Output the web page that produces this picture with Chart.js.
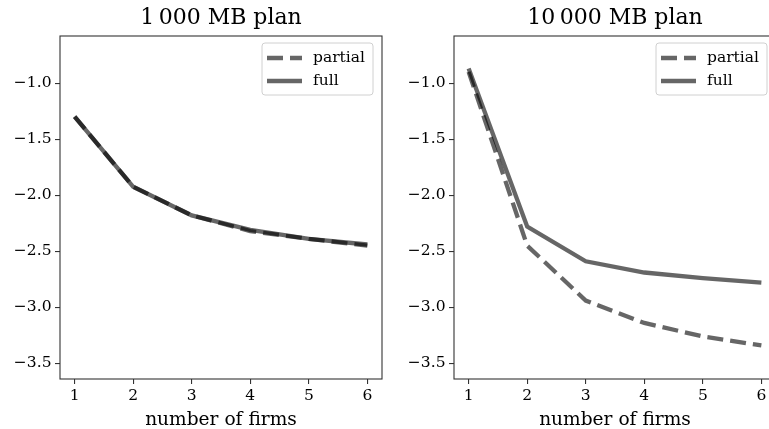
<!DOCTYPE html>
<html>
<head>
<meta charset="utf-8">
<script src="https://cdn.jsdelivr.net/npm/chart.js@4.4.1/dist/chart.umd.min.js"></script>
<style>
  html, body { margin: 0; padding: 0; background: #fff; overflow: hidden; width: 769px; height: 429px; }
  .panel { position: absolute; top: 0; height: 429px; }
  #p1 { left: 0; width: 390px; }
  #p2 { left: 390px; width: 400px; }
</style>
</head>
<body>
<div class="panel" id="p1"><canvas id="c1" width="390" height="429"></canvas></div>
<div class="panel" id="p2"><canvas id="c2" width="400" height="429"></canvas></div>
<script>
const firms = [1, 2, 3, 4, 5, 6];
const yTicks = [-3.5, -3.0, -2.5, -2.0, -1.5, -1.0];
const seriesNames = ['partial', 'full'];
const titles = ['1\u2009000 MB plan', '10\u2009000 MB plan'];

const plan1000Partial  = [-1.30, -1.925, -2.18, -2.32, -2.39, -2.45];
const plan1000Full     = [-1.30, -1.925, -2.18, -2.31, -2.39, -2.44];
const plan10000Partial = [-0.90, -2.45, -2.94, -3.14, -3.26, -3.34];
const plan10000Full    = [-0.87, -2.28, -2.59, -2.69, -2.74, -2.78];

// ───────────────────────────────────────────────────────────────────────────

const SERIF = "'DejaVu Serif', serif";
const LINE = 'rgba(0,0,0,0.6)';
const SPINE = '#333';

const framePlugin = {
  id: 'frame',
  afterDatasetsDraw(chart) {
    const { ctx, chartArea: a } = chart;
    ctx.save();
    ctx.strokeStyle = SPINE;
    ctx.lineWidth = 1.1;
    ctx.strokeRect(a.left, a.top, a.right - a.left, a.bottom - a.top);

    // legend box in the upper right corner
    const w = 111, h = 52;
    const x = a.right - 9 - w, y = a.top + 7;
    ctx.beginPath();
    ctx.roundRect(x, y, w, h, 3);
    ctx.fillStyle = 'rgba(255,255,255,0.8)';
    ctx.fill();
    ctx.strokeStyle = '#d0d0d0';
    ctx.lineWidth = 1;
    ctx.stroke();

    chart.data.datasets.forEach((ds, i) => {
      const ly = y + 15 + i * 23;
      ctx.beginPath();
      ctx.setLineDash(ds.borderDash || []);
      ctx.lineCap = 'butt';
      ctx.strokeStyle = ds.borderColor;
      ctx.lineWidth = ds.borderWidth;
      ctx.moveTo(x + 5, ly);
      ctx.lineTo(x + 40, ly);
      ctx.stroke();
      ctx.setLineDash([]);
      ctx.fillStyle = '#000';
      ctx.font = `15.5px ${SERIF}`;
      ctx.textBaseline = 'middle';
      ctx.fillText(ds.label, x + 51, ly);
    });
    ctx.restore();
  }
};

function fmt(v) {
  return (v < 0 ? '\u2212' : '') + Math.abs(v).toFixed(1);
}

function makeChart(id, title, partial, full, yWidth, padRight) {
  const tickFont = { family: SERIF, size: 15.5 };
  return new Chart(document.getElementById(id), {
    type: 'line',
    data: {
      datasets: [
        {
          label: seriesNames[0],
          data: firms.map((x, i) => ({ x, y: partial[i] })),
          borderColor: LINE,
          borderWidth: 4.3,
          borderDash: [16, 7],
          pointRadius: 0,
          tension: 0,
        },
        {
          label: seriesNames[1],
          data: firms.map((x, i) => ({ x, y: full[i] })),
          borderColor: LINE,
          borderWidth: 4.3,
          pointRadius: 0,
          tension: 0,
        }
      ]
    },
    options: {
      responsive: false,
      animation: false,
      events: [],
      layout: { padding: { left: 0, right: padRight, top: 0, bottom: 0 } },
      plugins: {
        legend: { display: false },
        tooltip: { enabled: false },
        title: {
          display: true,
          fullSize: false,
          text: title,
          color: '#000',
          font: { family: SERIF, size: 22, weight: 'normal', lineHeight: 1.2 },
          padding: { top: 5.5, bottom: 4.1 },
        },
      },
      scales: {
        x: {
          type: 'linear',
          min: 0.75,
          max: 6.25,
          afterBuildTicks: s => { s.ticks = firms.map(v => ({ value: v })); },
          afterFit: s => { s.height = 50; },
          ticks: { color: '#000', font: tickFont, autoSkip: false, maxRotation: 0, padding: 3 },
          grid: { drawOnChartArea: false, drawTicks: true, tickLength: 5, tickColor: SPINE, lineWidth: 1.1 },
          border: { display: false },
          title: {
            display: true,
            text: 'number of firms',
            color: '#000',
            font: { family: SERIF, size: 18.6, lineHeight: 1.0 },
            padding: { top: 0, bottom: 0 },
          },
        },
        y: {
          type: 'linear',
          min: -3.64,
          max: -0.58,
          afterBuildTicks: s => { s.ticks = yTicks.map(v => ({ value: v })); },
          afterFit: s => { s.width = yWidth; },
          ticks: { color: '#000', font: tickFont, autoSkip: false, padding: 3.5, callback: fmt },
          grid: { drawOnChartArea: false, drawTicks: true, tickLength: 5, tickColor: SPINE, lineWidth: 1.1 },
          border: { display: false },
        }
      }
    },
    plugins: [framePlugin]
  });
}

makeChart('c1', titles[0], plan1000Partial, plan1000Full, 60, 8);
makeChart('c2', titles[1], plan10000Partial, plan10000Full, 64, 14);
</script>
</body>
</html>
